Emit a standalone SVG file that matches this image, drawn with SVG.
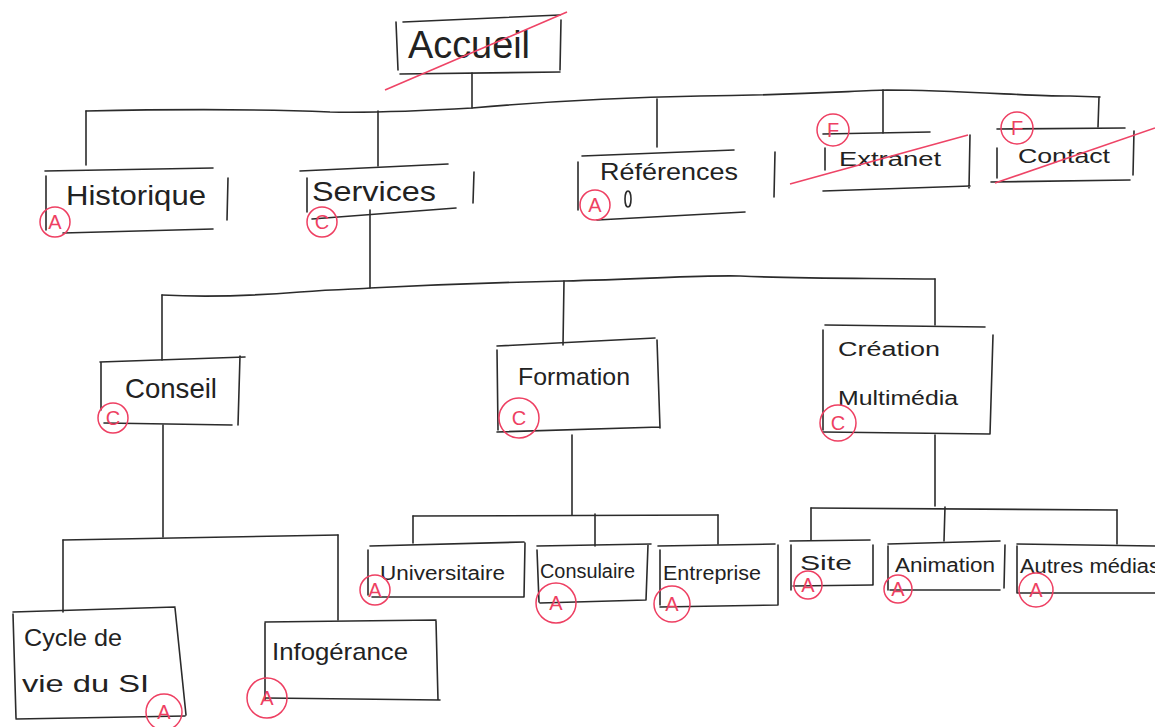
<svg xmlns="http://www.w3.org/2000/svg" width="1155" height="727" viewBox="0 0 1155 727">
<style>
  .ln { fill: none; stroke: #2b2b2b; stroke-width: 1.6; stroke-linecap: round; stroke-linejoin: round; }
  .tx { font-family: "Liberation Sans", "DejaVu Sans", sans-serif; fill: #222; }
  .big { font-size: 38px; }
  .lg { font-size: 28px; }
  .md { font-size: 24px; }
  .sm { font-size: 20px; }
  .mk { fill: none; stroke: #ee3f62; stroke-width: 1.5; }
  .mt { font-family: "Liberation Sans", sans-serif; font-size: 20px; fill: #ee3f62; text-anchor: middle; }
  .st { stroke: #ee4466; stroke-width: 1.6; fill: none; }
</style>
<rect width="1155" height="727" fill="#ffffff"/>

<g id="connectors" class="ln">
  <!-- level 1 -->
  <path d="M472 73 L472 108"/>
  <path d="M86 111 C180 109 260 109 330 112 C380 113 420 111 472 108 C540 102 600 98 700 96 C800 95 850 91 887 90 C960 90 1040 97 1070 96 L1100 97"/>
  <path d="M86 111 L86 165"/>
  <path d="M378 111 L378 166"/>
  <path d="M657 99 L657 147"/>
  <path d="M883 90 L883 133"/>
  <path d="M1099 97 L1098 127"/>
  <!-- under Services -->
  <path d="M370 210 L370 288"/>
  <path d="M162 295 C200 297 250 296 300 292 C340 289 360 289 370 288 C450 284 520 282 564 281 C650 279 700 275 740 276 C800 279 880 278 935 279"/>
  <path d="M162 295 L162 360"/>
  <path d="M564 281 L563 345"/>
  <path d="M935 279 L935 325"/>
  <!-- under Conseil -->
  <path d="M163 425 L163 537"/>
  <path d="M63 540 L338 535"/>
  <path d="M63 540 L63 612"/>
  <path d="M338 535 L338 620"/>
  <!-- under Formation -->
  <path d="M572 435 L572 515"/>
  <path d="M413 516 L718 515"/>
  <path d="M413 516 L413 543"/>
  <path d="M595 514 L595 546"/>
  <path d="M718 515 L718 544"/>
  <!-- under Création Multimédia -->
  <path d="M935 435 L935 506"/>
  <path d="M811 508 L1117 510"/>
  <path d="M811 508 L811 540"/>
  <path d="M945 507 L944 541"/>
  <path d="M1117 510 L1117 544"/>
</g>

<g id="accueil">
  <path class="ln" d="M403 22 L560 15 M396 22 L398 70 M561 20 L560 70 M400 74 L560 72"/>
  <text class="tx big" x="408" y="58" textLength="122" lengthAdjust="spacingAndGlyphs">Accueil</text>
  <path class="st" d="M385 90 L567 12"/>
</g>

<g id="historique">
  <path class="ln" d="M45 171 L213 168 M46 176 L46 230 M228 178 L227 220 M63 233 L213 229"/>
  <text class="tx lg" x="66" y="205" textLength="140" lengthAdjust="spacingAndGlyphs">Historique</text>
  <circle class="mk" cx="55" cy="222" r="15"/>
  <text class="mt" x="55" y="229">A</text>
</g>

<g id="services">
  <path class="ln" d="M300 171 L448 164 M307 178 L307 212 M474 172 L473 203 M312 219 L456 208"/>
  <text class="tx lg" x="312" y="201" textLength="124" lengthAdjust="spacingAndGlyphs">Services</text>
  <circle class="mk" cx="322" cy="222" r="15"/>
  <text class="mt" x="322" y="229">C</text>
</g>

<g id="references">
  <path class="ln" d="M582 156 L734 150 M578 162 L578 210 M775 152 L774 197 M597 220 L745 212"/>
  <text class="tx md" x="600" y="180" textLength="138" lengthAdjust="spacingAndGlyphs">Références</text>
  <ellipse class="ln" cx="628" cy="199" rx="3" ry="8"/>
  <circle class="mk" cx="595" cy="205" r="15"/>
  <text class="mt" x="595" y="212">A</text>
</g>

<g id="extranet">
  <path class="ln" d="M823 134 L930 132 M825 148 L825 170 M970 135 L969 188 M823 191 L970 186"/>
  <text class="tx sm" x="839" y="166" textLength="102" lengthAdjust="spacingAndGlyphs">Extranet</text>
  <path class="st" d="M790 184 L968 135"/>
  <circle class="mk" cx="833" cy="130" r="16"/>
  <text class="mt" x="833" y="137">F</text>
</g>

<g id="contact">
  <path class="ln" d="M997 129 L1125 128 M997 148 L997 178 M1134 131 L1133 175 M991 182 L1130 180"/>
  <text class="tx sm" x="1018" y="163" textLength="92" lengthAdjust="spacingAndGlyphs">Contact</text>
  <path class="st" d="M995 183 L1155 128"/>
  <circle class="mk" cx="1017" cy="128" r="16"/>
  <text class="mt" x="1017" y="135">F</text>
</g>

<g id="conseil">
  <path class="ln" d="M100 362 L245 357 M101 362 L101 410 M240 356 L238 425 M104 423 L232 425"/>
  <text class="tx lg" x="125" y="398" textLength="92" lengthAdjust="spacingAndGlyphs">Conseil</text>
  <circle class="mk" cx="113" cy="418" r="15"/>
  <text class="mt" x="113" y="425">C</text>
</g>

<g id="formation">
  <path class="ln" d="M497 346 L655 338 M497 350 L498 430 M657 340 L660 428 M497 432 L660 427"/>
  <text class="tx md" x="518" y="385" textLength="112" lengthAdjust="spacingAndGlyphs">Formation</text>
  <circle class="mk" cx="519" cy="418" r="20"/>
  <text class="mt" x="519" y="425">C</text>
</g>

<g id="creation">
  <path class="ln" d="M825 325 L985 327 M823 330 L823 430 M993 335 L990 434 M823 432 L990 434"/>
  <text class="tx sm" x="838" y="356" textLength="102" lengthAdjust="spacingAndGlyphs">Création</text>
  <text class="tx sm" x="838" y="405" textLength="120" lengthAdjust="spacingAndGlyphs">Multimédia</text>
  <circle class="mk" cx="838" cy="423" r="18"/>
  <text class="mt" x="838" y="430">C</text>
</g>

<g id="cycle">
  <path class="ln" d="M13 612 L175 607 M13 614 L16 718 M175 608 L186 715 M16 719 L185 716"/>
  <text class="tx md" x="24" y="646" textLength="98" lengthAdjust="spacingAndGlyphs">Cycle de</text>
  <text class="tx md" x="22" y="692" textLength="127" lengthAdjust="spacingAndGlyphs">vie du SI</text>
  <circle class="mk" cx="164" cy="712" r="18"/>
  <text class="mt" x="164" y="719">A</text>
</g>

<g id="infogerance">
  <path class="ln" d="M265 622 L436 620 M265 623 L265 700 M436 621 L438 700 M266 698 L440 700"/>
  <text class="tx md" x="272" y="660" textLength="136" lengthAdjust="spacingAndGlyphs">Infogérance</text>
  <circle class="mk" cx="267" cy="698" r="20"/>
  <text class="mt" x="267" y="705">A</text>
</g>

<g id="universitaire">
  <path class="ln" d="M370 546 L524 542 M368 550 L368 595 M525 543 L524 597 M372 597 L523 597"/>
  <text class="tx sm" x="380" y="580" textLength="125" lengthAdjust="spacingAndGlyphs">Universitaire</text>
  <circle class="mk" cx="375" cy="590" r="15"/>
  <text class="mt" x="375" y="597">A</text>
</g>

<g id="consulaire">
  <path class="ln" d="M537 546 L651 544 M537 550 L539 602 M648 545 L646 600 M540 603 L646 600"/>
  <text class="tx sm" x="540" y="578" textLength="95" lengthAdjust="spacingAndGlyphs">Consulaire</text>
  <circle class="mk" cx="556" cy="603" r="20"/>
  <text class="mt" x="556" y="610">A</text>
</g>

<g id="entreprise">
  <path class="ln" d="M658 546 L775 544 M660 550 L660 605 M778 545 L778 605 M660 607 L778 605"/>
  <text class="tx sm" x="663" y="580" textLength="98" lengthAdjust="spacingAndGlyphs">Entreprise</text>
  <circle class="mk" cx="672" cy="604" r="18"/>
  <text class="mt" x="672" y="611">A</text>
</g>

<g id="site">
  <path class="ln" d="M790 541 L870 540 M791 545 L791 590 M873 545 L873 585 M793 586 L872 585"/>
  <text class="tx sm" x="800" y="570" textLength="52" lengthAdjust="spacingAndGlyphs">Site</text>
  <circle class="mk" cx="808" cy="585" r="14"/>
  <text class="mt" x="808" y="592">A</text>
</g>

<g id="animation">
  <path class="ln" d="M888 544 L1000 541 M888 546 L888 590 M1005 545 L1004 588 M890 590 L1000 590"/>
  <text class="tx sm" x="895" y="572" textLength="100" lengthAdjust="spacingAndGlyphs">Animation</text>
  <circle class="mk" cx="898" cy="589" r="14"/>
  <text class="mt" x="898" y="596">A</text>
</g>

<g id="autres">
  <path class="ln" d="M1017 544 L1155 546 M1017 546 L1017 593 M1017 593 L1155 593"/>
  <text class="tx sm" x="1020" y="573" textLength="140" lengthAdjust="spacingAndGlyphs">Autres médias</text>
  <circle class="mk" cx="1036" cy="590" r="17"/>
  <text class="mt" x="1036" y="597">A</text>
</g>
</svg>
